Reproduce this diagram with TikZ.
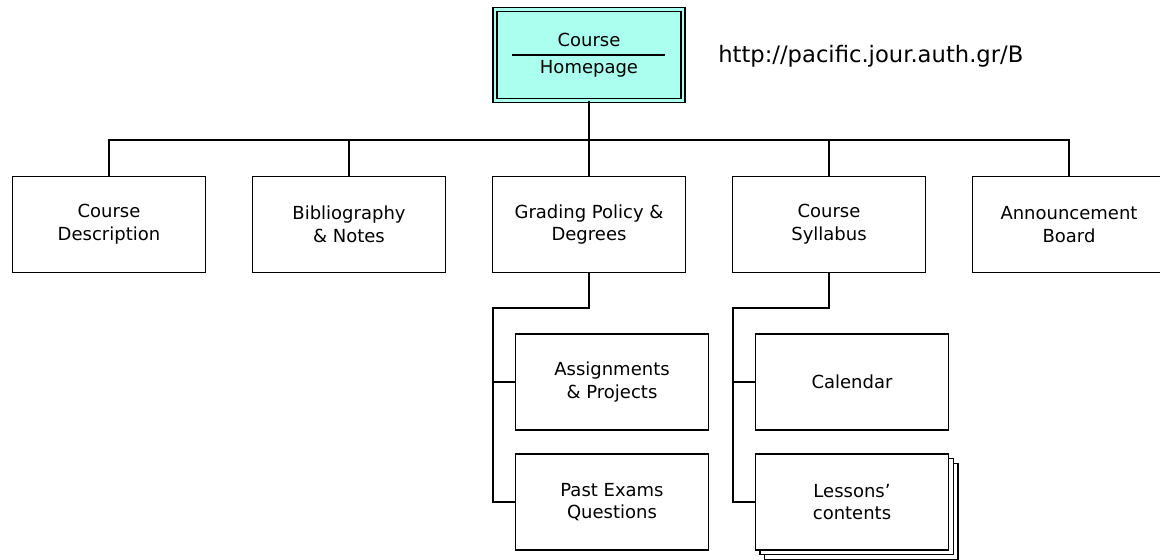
\documentclass[tikz,border=0pt]{standalone}
\usepackage{fontspec}
\setmainfont{DejaVu Sans}
\usetikzlibrary{shadows}
\definecolor{homecyan}{HTML}{AAFFEE}

\begin{document}
\begin{tikzpicture}[x=0.75pt, y=-0.75pt,
    every node/.style={font=\fontsize{13.5}{17}\selectfont, align=center, inner sep=0pt},
    pagebox/.style={draw, rectangle, fill=white, line width=1pt, minimum width=145pt, minimum height=72pt},
    homebox/.style={draw, rectangle, fill=homecyan, line width=0.9pt, double=homecyan, double distance=2.2pt, minimum width=141pt, minimum height=68pt},
    stackbox/.style={pagebox, double copy shadow={shadow xshift=3.5pt, shadow yshift=-3.5pt}},
    link/.style={line width=1pt},
    ]
  \clip (0,0) rectangle (1160,560);
  \fill[white] (0,0) rectangle (1160,560);

  \node[homebox] (home) at (589,55) {Course\\[3pt]Homepage};
  \draw[link] (home.center) ++(-77,0) -- ++(153,0);
  \node[anchor=west, font=\fontsize{17}{20}\selectfont] (url) at (718,56) {http://pacific.jour.auth.gr/B};

  \node[pagebox] (desc) at (109,224.5) {Course\\Description};
  \node[pagebox] (biblio) at (349,224.5) {Bibliography\\\& Notes};
  \node[pagebox] (grading) at (589,224.5) {Grading Policy \&\\Degrees};
  \node[pagebox] (syllabus) at (829,224.5) {Course\\Syllabus};
  \node[pagebox] (announce) at (1069,224.5) {Announcement\\Board};

  \node[pagebox] (assign) at (612,382) {Assignments\\\& Projects};
  \node[pagebox] (exams) at (612,502) {Past Exams\\Questions};
  \node[pagebox] (calendar) at (852,382) {Calendar};
  \node[stackbox] (lessons) at (852,502) {Lessons'\\contents};

  \foreach \child in {desc, biblio, grading, syllabus, announce}
    \draw[link] (home.south) -- ++(0,39) -| (\child.north);

  \coordinate (gradtrunk) at (493,308);
  \coordinate (sylltrunk) at (733,308);
  \draw[link] (grading.south) |- (gradtrunk) |- (exams.west);
  \draw[link] (gradtrunk) |- (assign.west);
  \draw[link] (syllabus.south) |- (sylltrunk) |- (lessons.west);
  \draw[link] (sylltrunk) |- (calendar.west);
\end{tikzpicture}
\end{document}
